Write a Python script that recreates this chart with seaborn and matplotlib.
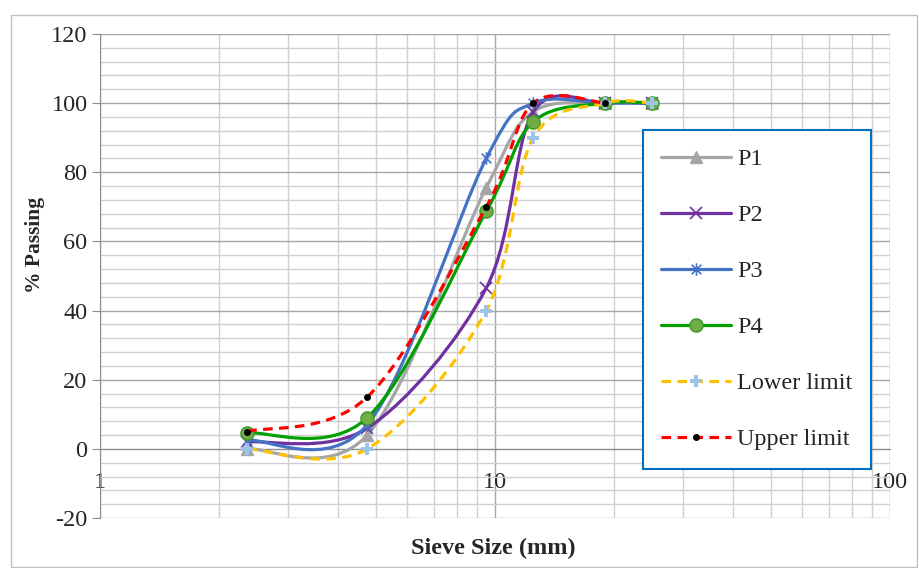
import numpy as np
import seaborn as sns
import matplotlib.pyplot as plt
from matplotlib.path import Path
from matplotlib.patches import PathPatch, Rectangle
from matplotlib.lines import Line2D
from matplotlib.ticker import FixedLocator, NullFormatter, MultipleLocator

# sieve sizes (mm) and % passing
sieve = [2.36, 4.75, 9.5, 12.5, 19, 25]
p1 = [0, 4, 75.5, 97.5, 100, 100]
p2 = [2, 6, 46.5, 97.5, 100, 100]
p3 = [2.5, 7, 84, 100, 100, 100]
p4 = [4.6, 9, 68.7, 94.6, 100, 100]
lower = [0, 0, 40, 90, 100, 100]
upper_sieve = [2.36, 4.75, 9.5, 12.5, 19]
upper = [5, 15, 70, 100, 100]

star = Path([(-1, -1), (1, 1), (-1, 1), (1, -1), (0, -1.3), (0, 1.3)],
            [Path.MOVETO, Path.LINETO, Path.MOVETO, Path.LINETO, Path.MOVETO, Path.LINETO])

series = [
    ("P1", sieve, p1, dict(color="#A5A5A5", ls="-", marker="^", ms=8, mfc="#A5A5A5", mec="#A5A5A5", mew=1)),
    ("P2", sieve, p2, dict(color="#7030A0", ls="-", marker="x", ms=8, mfc="#7030A0", mec="#7030A0", mew=1.2)),
    ("P3", sieve, p3, dict(color="#4472C4", ls="-", marker=star, ms=9, mfc="#4472C4", mec="#4472C4", mew=1.2)),
    ("P4", sieve, p4, dict(color="#00A000", ls="-", marker="o", ms=9.5, mfc="#70AD47", mec="#3C9A28", mew=1)),
    ("Lower limit", sieve, lower, dict(color="#FFC000", ls=(0, (3, 2)), marker="P", ms=8, mfc="#9DC3E6", mec="#9DC3E6", mew=0)),
    ("Upper limit", upper_sieve, upper, dict(color="#FF0000", ls=(0, (3, 2)), marker="o", ms=5, mfc="black", mec="black", mew=0)),
]


def smooth_path(xs, ys):
    # excel-like smoothed line: bezier through the points (in log-x space)
    lx = np.log10(xs)
    pts = np.column_stack([lx, np.asarray(ys, float)])
    n = len(pts)
    verts = [pts[0]]
    codes = [Path.MOVETO]
    for i in range(n - 1):
        prev = pts[max(i - 1, 0)]
        nxt = pts[min(i + 2, n - 1)]
        c1 = pts[i] + (pts[i + 1] - prev) / 6
        c2 = pts[i + 1] - (nxt - pts[i]) / 6
        verts += [c1, c2, pts[i + 1]]
        codes += [Path.CURVE4] * 3
    verts = np.array(verts)
    verts[:, 0] = 10 ** verts[:, 0]
    return Path(verts, codes)


sns.set_style("white")
plt.rcParams["font.family"] = ["Liberation Serif", "DejaVu Serif"]
plt.rcParams["axes.unicode_minus"] = False
FS = 17.5

fig = plt.figure(figsize=(9.19, 5.68), dpi=100)
fig.patches.append(Rectangle((11 / 919, 1 / 568), 906 / 919, 552 / 568, transform=fig.transFigure,
                             fill=False, edgecolor="#BFBFBF", lw=1))
ax = fig.add_axes([100 / 919, 1 - 518 / 568, 790 / 919, 484 / 568])

ax.set_xscale("log")
ax.set_xlim(1, 100)
ax.set_ylim(-20, 120)

# grid
ax.yaxis.set_major_locator(MultipleLocator(20))
ax.yaxis.set_minor_locator(MultipleLocator(4))
ax.xaxis.set_major_locator(FixedLocator([1, 10, 100]))
ax.xaxis.set_minor_locator(FixedLocator([m * d for d in (1, 10) for m in range(2, 10)]))
ax.xaxis.set_minor_formatter(NullFormatter())
ax.grid(which="major", color="#A6A6A6", lw=1)
ax.grid(which="minor", color="#D0D0D0", lw=1)
ax.set_axisbelow(True)

for s in ["top", "right"]:
    ax.spines[s].set_visible(False)
ax.spines["left"].set_color("#8C8C8C")
ax.spines["bottom"].set_position(("data", 0))
ax.spines["bottom"].set_color("#8C8C8C")

ax.set_xticks([1, 10, 100])
ax.set_xticklabels(["1", "10", "100"])
ax.tick_params(axis="x", which="both", length=0, pad=17, labelsize=FS)
ax.tick_params(axis="y", which="major", length=6, color="#8C8C8C", direction="out", left=True, labelsize=FS, pad=3)
ax.tick_params(axis="y", which="minor", length=0)

handles = []
for k, (name, xs, ys, st) in enumerate(series):
    patch = PathPatch(smooth_path(xs, ys), fill=False, edgecolor=st["color"], lw=2.3,
                      linestyle=st["ls"], capstyle="butt", zorder=3 + k)
    ax.add_patch(patch)
    sns.lineplot(x=xs, y=ys, ax=ax, linestyle="", marker=st["marker"], markersize=st["ms"],
                 markerfacecolor=st["mfc"], markeredgecolor=st["mec"], markeredgewidth=st["mew"],
                 color=st["color"], zorder=3.5 + k, legend=False, estimator=None, sort=False)
    handles.append(Line2D([], [], color=st["color"], lw=2.3, linestyle=st["ls"], marker=st["marker"],
                          ms=st["ms"], mfc=st["mfc"], mec=st["mec"], mew=st["mew"], label=name))

ax.set_xlabel("")
ax.set_ylabel("")
fig.text(35 / 919, 1 - 245 / 568, "% Passing", rotation=90, ha="center", va="center",
         fontsize=15.5, fontweight="bold")
fig.text(493 / 919, 1 - 548 / 568, "Sieve Size (mm)", ha="center", va="center",
         fontsize=FS, fontweight="bold")

leg = ax.legend(handles=handles, loc="upper left", bbox_to_anchor=(0.687, 0.8017), fontsize=FS,
                frameon=True, fancybox=False, framealpha=1, edgecolor="#0070C0", borderpad=0.75,
                labelspacing=1.4, handlelength=2.88, handletextpad=0.25, borderaxespad=0)
leg.get_frame().set_linewidth(1.5)
leg.set_zorder(20)

fig.savefig("out.png", dpi=100)
